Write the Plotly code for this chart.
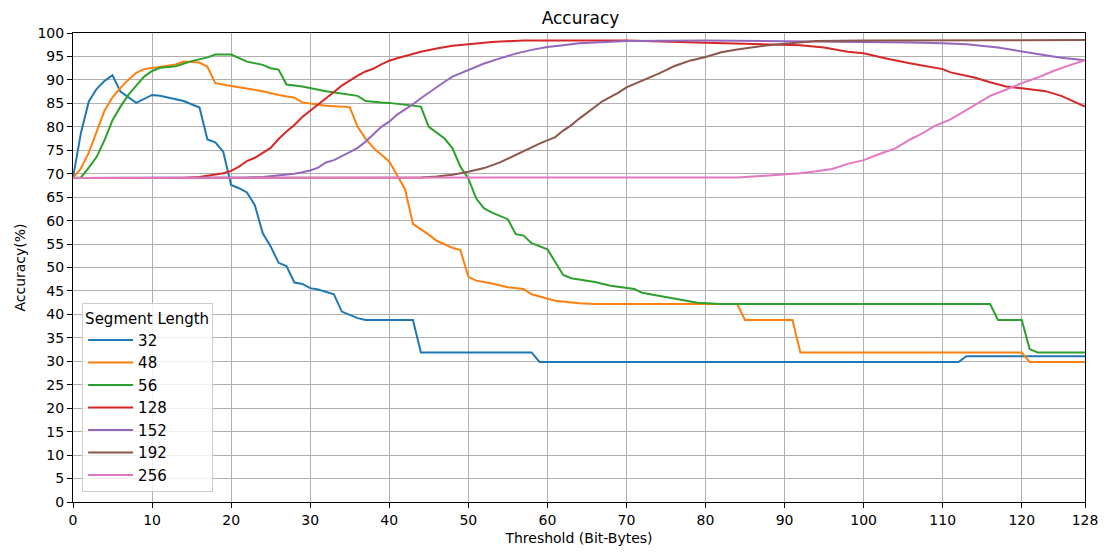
import plotly.graph_objects as go

# Segment length 32
x32 = [0,1,2,3,4,5,6,8,10,11,14,16,17,18,19,20,21,22,23,24,25,26,27,28,29,30,31,33,34,35,36,37,43,44,58,59,112,113,128]
y32 = [69.1,78.7,85.4,88.1,89.8,91.0,87.5,85.1,86.8,86.6,85.5,84.1,77.3,76.7,74.7,67.6,66.9,66.0,63.3,57.3,54.5,51.0,50.3,46.8,46.5,45.6,45.3,44.3,40.6,39.9,39.2,38.8,38.8,31.9,31.9,29.85,29.85,31.1,31.1]

# Segment length 48
x48 = [0,1,2,3,4,5,6,7,8,9,11,13,14,16,17,18,20,22,24,26,28,29,30,32,35,36,37,38,40,41,42,43,44,45,46,48,49,50,51,53,55,57,58,60,61,64,66,84,85,91,92,120,121,128]
y48 = [69.1,71.1,74.5,79.0,83.5,86.3,88.3,90.0,91.5,92.3,92.8,93.3,93.9,93.7,92.8,89.3,88.7,88.1,87.6,86.8,86.2,85.2,85.0,84.5,84.2,80.0,77.5,75.5,72.6,69.7,66.7,59.3,58.2,57.0,55.7,54.2,53.7,48.0,47.2,46.6,45.8,45.4,44.3,43.3,42.9,42.4,42.2,42.2,38.8,38.8,31.9,31.9,29.85,29.85]

# Segment length 56
x56 = [0,1,2,3,4,5,6,7,8,9,10,11,13,14,15,17,18,20,21,22,24,25,26,27,29,31,32,36,37,39,40,44,45,47,48,49,50,51,52,53,55,56,57,58,60,62,63,66,68,71,72,73,76,79,82,116,117,120,121,122,128]
y56 = [69.1,69.2,71.3,73.6,77.2,81.4,84.3,86.8,88.8,90.7,91.9,92.6,92.9,93.5,94.0,94.8,95.4,95.4,94.7,93.9,93.2,92.5,92.2,89.0,88.6,87.9,87.6,86.6,85.5,85.2,85.1,84.3,80.0,77.5,75.4,71.5,69.0,64.7,62.6,61.7,60.3,57.1,56.8,55.2,53.9,48.4,47.7,46.9,46.1,45.4,44.6,44.3,43.4,42.5,42.2,42.2,38.8,38.8,32.6,31.9,31.9]

# Segment length 128
x128 = [0,14,16,18,19,20,21,22,23,25,26,27,28,29,30,31,32,33,34,35,36,37,38,39,40,41,42,43,44,46,48,50,53,57,62,70,80,90,92,95,98,100,103,106,110,111,114,116,118,120,123,125,127,128]
y128 = [69.1,69.1,69.3,69.8,70.1,70.6,71.5,72.7,73.4,75.5,77.4,79.0,80.4,82.1,83.4,84.8,85.9,87.4,88.8,89.9,90.9,91.8,92.4,93.3,94.1,94.6,95.1,95.6,96.0,96.7,97.3,97.6,98.1,98.4,98.4,98.4,97.9,97.6,97.4,96.9,96.0,95.7,94.5,93.5,92.3,91.6,90.5,89.5,88.6,88.2,87.6,86.6,85.0,84.3]

# Segment length 152
x152 = [0,20,22,24,26,28,29,30,31,32,33,34,35,36,37,38,39,40,41,42,43,44,45,46,47,48,49,50,52,54,56,58,60,62,64,66,70,80,90,100,106,110,113,117,119,122,125,128]
y152 = [69.1,69.1,69.2,69.3,69.6,70.0,70.3,70.7,71.3,72.4,72.9,73.7,74.6,75.5,76.8,78.4,80.0,81.1,82.6,83.7,84.8,86.1,87.3,88.5,89.6,90.7,91.4,92.1,93.5,94.6,95.6,96.4,97.0,97.4,97.8,98.0,98.3,98.4,98.3,98.1,98.0,97.8,97.6,96.9,96.4,95.5,94.7,94.2]

# Segment length 192
x192 = [0,38,41,44,46,48,50,52,54,55,56,57,58,59,60,61,62,63,64,65,66,67,68,69,70,71,72,73,74,75,76,77,78,80,82,84,86,88,90,92,94,100,128]
y192 = [69.1,69.1,69.1,69.2,69.4,69.8,70.4,71.2,72.4,73.2,74.0,74.9,75.7,76.4,77.1,77.8,79.2,80.3,81.7,83.0,84.3,85.5,86.4,87.3,88.4,89.1,89.9,90.6,91.3,92.1,92.9,93.5,94.1,94.9,95.9,96.5,97.0,97.4,97.7,98.0,98.3,98.4,98.5]

# Segment length 256
x256 = [0,80,84,88,90,92,94,96,98,100,102,104,105,106,107,108,109,111,113,114,116,118,120,122,124,126,128]
y256 = [69.1,69.1,69.2,69.6,69.8,70.1,70.5,71.0,72.1,72.9,74.2,75.4,76.4,77.4,78.2,79.2,80.2,81.6,83.6,84.6,86.6,87.9,89.3,90.5,91.9,93.1,94.2]

series_names = ["32", "48", "56", "128", "152", "192", "256"]
series_x = [x32, x48, x56, x128, x152, x192, x256]
series_y = [y32, y48, y56, y128, y152, y192, y256]
colors = ["#1f77b4", "#ff7f0e", "#2ca02c", "#d62728", "#9467bd", "#8c564b", "#e377c2"]

x_ticks = [0, 10, 20, 30, 40, 50, 60, 70, 80, 90, 100, 110, 120, 128]
y_ticks = list(range(0, 101, 5))

FONT = "DejaVu Sans"

fig = go.Figure()
for name, xs, ys, c in zip(series_names, series_x, series_y, colors):
    fig.add_trace(go.Scatter(x=xs, y=ys, mode="lines", name=name,
                             line=dict(color=c, width=2)))

fig.update_layout(
    width=1110, height=557,
    margin=dict(l=73, r=22, t=33, b=55),
    paper_bgcolor="white", plot_bgcolor="white",
    font=dict(family=FONT, size=14, color="black"),
    title=dict(text="Accuracy", x=(73 + 1088) / 2 / 1110, xanchor="center",
               y=1 - 18 / 557, yanchor="middle", yref="container",
               font=dict(family=FONT, size=17, color="black")),
    showlegend=True,
    legend=dict(
        title=dict(text="Segment Length", font=dict(family=FONT, size=15)),
        x=0.009, y=0.021, xanchor="left", yanchor="bottom",
        bgcolor="rgba(255,255,255,0.8)", bordercolor="#cccccc", borderwidth=1,
        font=dict(family=FONT, size=15), itemwidth=45,
    ),
)

fig.update_xaxes(
    range=[0, 128], tickvals=x_ticks, ticktext=[str(v) for v in x_ticks],
    showgrid=True, gridcolor="#b0b0b0", gridwidth=1,
    showline=True, linecolor="black", linewidth=1, mirror=True,
    ticks="outside", ticklen=5, tickcolor="black",
    zeroline=False, tickfont=dict(family=FONT, size=14),
    title=dict(text="Threshold (Bit-Bytes)", font=dict(family=FONT, size=14), standoff=6),
)
fig.update_yaxes(
    range=[0, 100], tickvals=y_ticks, ticktext=[str(v) for v in y_ticks],
    showgrid=True, gridcolor="#b0b0b0", gridwidth=1,
    showline=True, linecolor="black", linewidth=1, mirror=True,
    ticks="outside", ticklen=5, tickcolor="black",
    zeroline=False, tickfont=dict(family=FONT, size=14),
    title=dict(text="Accuracy(%)", font=dict(family=FONT, size=14), standoff=8),
)

fig.write_html("out.html")
